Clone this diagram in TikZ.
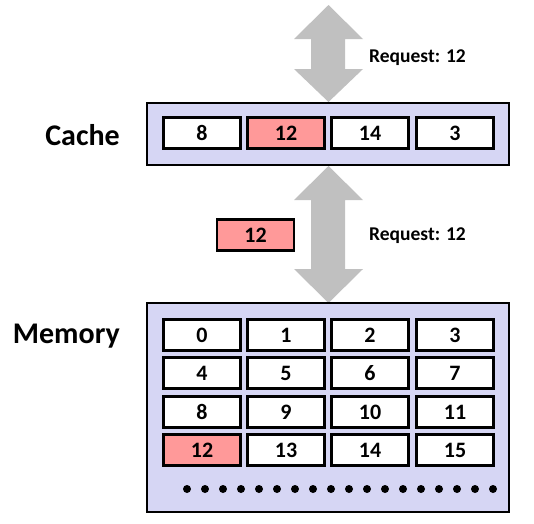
\documentclass[tikz,border=0pt]{standalone}
\usepackage{fontspec}
\setmainfont{Carlito}
\definecolor{boxfill}{RGB}{214,214,244}
\definecolor{hit}{RGB}{255,153,153}
\definecolor{arrowgray}{RGB}{192,192,192}
\begin{document}
\begin{tikzpicture}[x=1pt,y=-1pt,
  container/.style={draw=black,fill=boxfill,line width=2.2pt,minimum width=362pt,inner sep=0pt},
  cell/.style={draw=black,fill=white,line width=2.2pt,minimum width=77pt,minimum height=31pt,inner sep=0pt,font=\fontsize{22}{24}\selectfont\bfseries},
  hitcell/.style={cell,fill=hit},
  lbl/.style={font=\fontsize{30}{34}\selectfont\bfseries,inner sep=0pt},
  req/.style={font=\fontsize{19.5}{22}\selectfont\bfseries,inner sep=0pt},
  dot/.style={circle,fill=black,minimum size=8pt,inner sep=0pt}]
\useasboundingbox (0,0) rectangle (534,523);
% arrows
\fill[arrowgray] (328.5,5) -- (363,39) -- (345,39) -- (345,69) -- (363,69) -- (328.5,102) -- (294,69) -- (311,69) -- (311,39) -- (294,39) -- cycle;
\fill[arrowgray] (328.5,166) -- (363,200) -- (345,200) -- (345,269) -- (363,269) -- (328.5,303) -- (294,269) -- (311,269) -- (311,200) -- (294,200) -- cycle;
% containers
\node[container,minimum height=62pt] (cache) at (328,134) {};
\node[container,minimum height=209pt] (mem) at (328,407.5) {};
% labels
\node[lbl,anchor=base east] (lc) at (120,145) {Cache};
\node[lbl,anchor=base east] (lm) at (120,343) {Memory};
\node[req,anchor=base west] (r1) at (369,62) {Request: 12};
\node[req,anchor=base west] (r2) at (369,240) {Request: 12};
% cache cells
\node[cell] (c0) at (202,133) {8};
\node[hitcell] (c1) at (286,133) {12};
\node[cell] (c2) at (370,133) {14};
\node[cell] (c3) at (455,133) {3};
% floating
\node[hitcell] (f) at (255.5,235) {12};
% memory cells
\foreach \r/\y in {0/335,1/373,2/412,3/450}{
  \foreach \c/\x in {0/202,1/286,2/370,3/455}{
    \pgfmathtruncatemacro{\v}{4*\r+\c}
    \ifnum\v=12
      \node[hitcell] (m\v) at (\x,\y) {\v};
    \else
      \node[cell] (m\v) at (\x,\y) {\v};
    \fi
  }
}
\foreach \i in {0,...,17}{
  \node[dot] (d\i) at (187+18*\i,489) {};
}
\end{tikzpicture}
\end{document}
